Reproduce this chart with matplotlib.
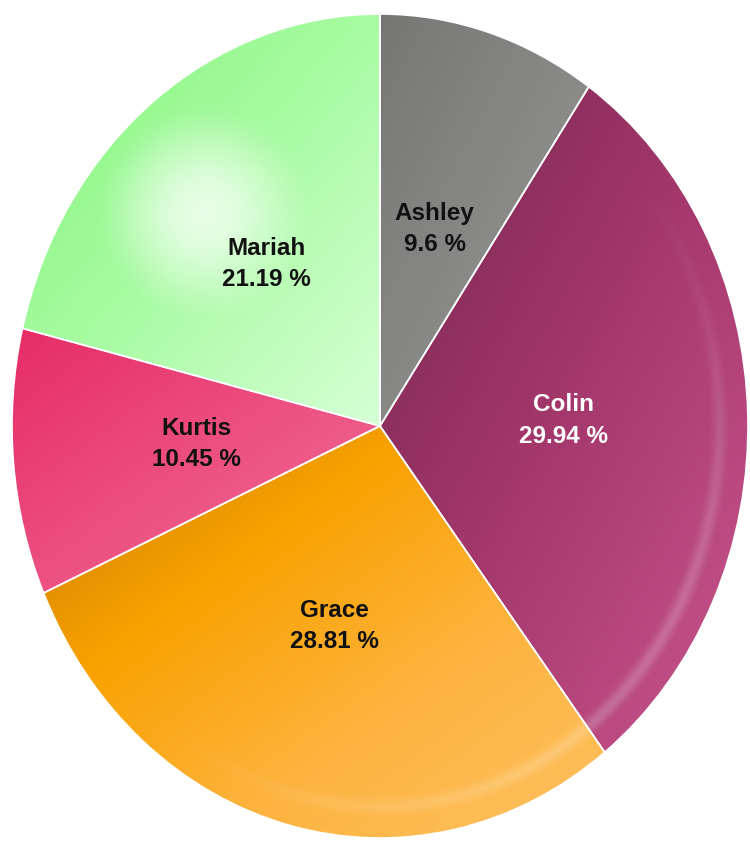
"""Glossy pie chart of shares per person."""

import numpy as np
import matplotlib.pyplot as plt
from matplotlib.colors import LinearSegmentedColormap

names = ['Ashley', 'Colin', 'Grace', 'Kurtis', 'Mariah']
shares = [9.6, 29.94, 28.81, 10.45, 21.19]
# gradient stops of each slice, from top-left to bottom-right
slice_colors = [
    ['#767775', '#9a9b99'],
    ['#76264f', '#a5386c', '#c9568f'],
    ['#c57c00', '#f9a100', '#fdb440', '#fec060'],
    ['#e62c66', '#f2729a'],
    ['#84f57c', '#a8fba2', '#d6ffd6'],
]
text_colors = ['#111111', '#ffffff', '#111111', '#111111', '#111111']

plt.rcParams['font.family'] = ['Liberation Sans', 'DejaVu Sans']

fig = plt.figure(figsize=(7.5, 8.42), dpi=100)
ax = fig.add_axes([12 / 750, 4 / 842, 736 / 750, 824 / 842])

labels = ['%s\n%s %%' % (n, ('%.2f' % v).rstrip('0').rstrip('.')) for n, v in zip(names, shares)]
wedges, texts = ax.pie(shares, labels=labels, labeldistance=0.5, startangle=90,
                       counterclock=False,
                       wedgeprops=dict(edgecolor='white', linewidth=1.2),
                       textprops=dict(fontsize=17.5, fontweight='bold', ha='center', va='center'))
ax.set_aspect('auto')
ax.set_xlim(-1, 1)
ax.set_ylim(-1, 1)
ax.axis('off')

for t, c in zip(texts, text_colors):
    t.set_color(c)
    t.set_linespacing(1.45)
    t.set_zorder(10)

# grid for the gradient images
n = 600
xs = np.linspace(-1, 1, n)
X, Y = np.meshgrid(xs, xs)
R = np.hypot(X, Y)
PHI = np.arctan2(Y, X)

for w, stops in zip(wedges, slice_colors):
    ang = np.radians(np.linspace(w.theta1, w.theta2, 100))
    px = np.concatenate([[0], np.cos(ang)])
    py = np.concatenate([[0], np.sin(ang)])
    x0, x1, y0, y1 = px.min(), px.max(), py.min(), py.max()
    t = ((X - x0) / (x1 - x0) + (y1 - Y) / (y1 - y0)) / 2
    cmap = LinearSegmentedColormap.from_list('g', stops)
    img = cmap(np.clip(t, 0, 1))
    im = ax.imshow(img, extent=(-1, 1, -1, 1), origin='lower', aspect='auto',
                   interpolation='bilinear', zorder=1)
    im.set_clip_path(w)
    w.set_facecolor('none')
    w.set_zorder(3)

# soft white highlight on Mariah
mariah = wedges[names.index('Mariah')]
d = np.sqrt(((X + 0.48) / 0.3) ** 2 + ((Y - 0.52) / 0.27) ** 2)
glow = np.zeros((n, n, 4))
glow[..., :3] = 1
glow[..., 3] = 0.72 * np.clip(1 - d ** 2, 0, 1) ** 1.6
gi = ax.imshow(glow, extent=(-1, 1, -1, 1), origin='lower', aspect='auto', zorder=2)
gi.set_clip_path(mariah)

# light rim on the lower right side
rim = np.zeros((n, n, 4))
rim[..., :3] = 1
side = np.clip(np.cos(PHI + np.pi / 4), 0, 1) ** 1.5
rim[..., 3] = 0.2 * np.exp(-((R - 0.925) / 0.018) ** 2) * side * (R < 1)
ax.imshow(rim, extent=(-1, 1, -1, 1), origin='lower', aspect='auto', zorder=2)

fig.savefig('out.png', dpi=100)
